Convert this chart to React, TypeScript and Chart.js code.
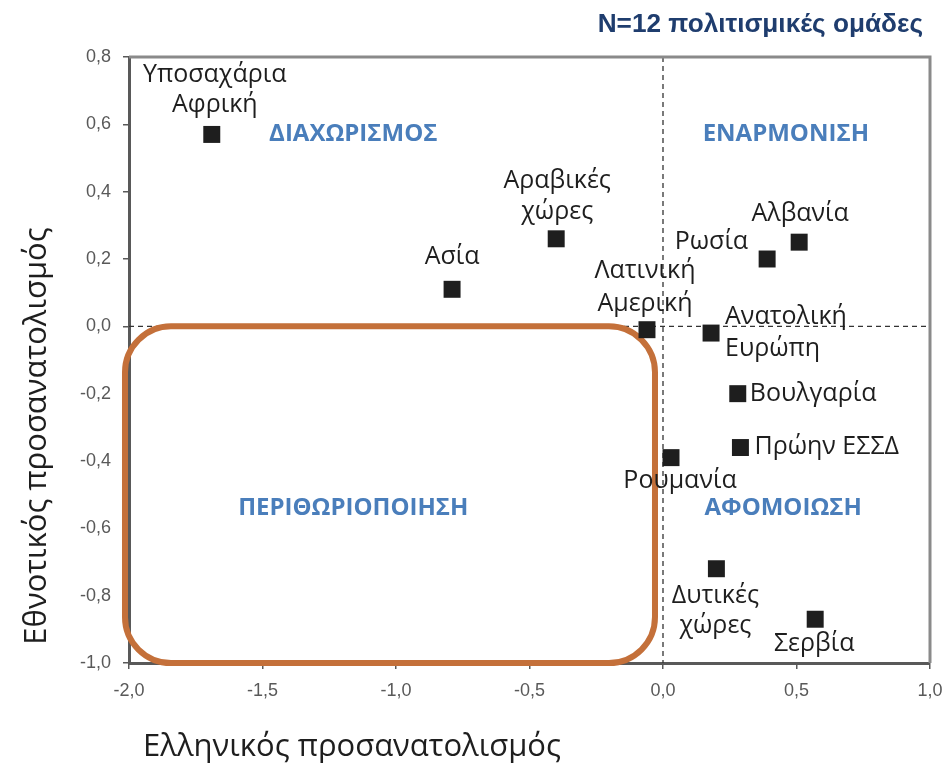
import React, { useEffect, useRef } from "react";
import { Chart, registerables } from "chart.js";

Chart.register(...registerables);

// ---- data ----
const groupNames: string[][] = [
  ["Υποσαχάρια", "Αφρική"],
  ["Ασία"],
  ["Αραβικές", "χώρες"],
  ["Λατινική", "Αμερική"],
  ["Ανατολική", "Ευρώπη"],
  ["Ρωσία"],
  ["Αλβανία"],
  ["Βουλγαρία"],
  ["Πρώην ΕΣΣΔ"],
  ["Ρουμανία"],
  ["Δυτικές", "χώρες"],
  ["Σερβία"],
];
const greekOrientation: number[] = [-1.69, -0.79, -0.40, -0.06, 0.18, 0.39, 0.51, 0.28, 0.29, 0.03, 0.20, 0.57];
const ethnicOrientation: number[] = [0.57, 0.11, 0.26, -0.01, -0.02, 0.20, 0.25, -0.20, -0.36, -0.39, -0.72, -0.87];

const quadrantNames: string[] = ["ΔΙΑΧΩΡΙΣΜΟΣ", "ΕΝΑΡΜΟΝΙΣΗ", "ΠΕΡΙΘΩΡΙΟΠΟΙΗΣΗ", "ΑΦΟΜΟΙΩΣΗ"];
const quadrantX: number[] = [-1.16, 0.46, -1.16, 0.45];
const quadrantY: number[] = [0.57, 0.57, -0.54, -0.54];

// marginalisation box (data coordinates)
const boxX: number[] = [-2.015, -0.03];
const boxY: number[] = [0.0, -1.0];

const xTitle = "Ελληνικός προσανατολισμός";
const yTitle = "Εθνοτικός προσανατολισμός";
const chartTitle = "N=12 πολιτισμικές ομάδες";

// ---- label layout (pixel offsets from the marker, styling only) ----
type Place = { align: CanvasTextAlign; dx: number; dy: number[] };
const labelPlacement: Place[] = [
  { align: "center", dx: 3, dy: [-60, -30] },
  { align: "center", dx: 0, dy: [-32] },
  { align: "center", dx: 1, dy: [-58, -27] },
  { align: "center", dx: -2, dy: [-59, -26] },
  { align: "left", dx: 14, dy: [-16, 16] },
  { align: "right", dx: -19, dy: [-17] },
  { align: "center", dx: 1, dy: [-28] },
  { align: "left", dx: 12, dy: [0] },
  { align: "left", dx: 14, dy: [-1] },
  { align: "center", dx: 9, dy: [23] },
  { align: "center", dx: -1, dy: [27, 57] },
  { align: "center", dx: -1, dy: [25] },
];

const FONT = "'Open Sans', 'Noto Sans', sans-serif";
const fmt = (v: number) => (Math.abs(v) < 1e-9 ? 0 : v).toFixed(1).replace(".", ",");

const overlayPlugin = {
  id: "overlay",
  beforeDatasetsDraw(chart: any) {
    const { ctx, chartArea: a, scales } = chart;
    const xs = scales.x, ys = scales.y;
    ctx.save();
    // dashed zero lines
    ctx.strokeStyle = "#333";
    ctx.lineWidth = 1.3;
    ctx.setLineDash([5, 4]);
    const x0 = xs.getPixelForValue(0), y0 = ys.getPixelForValue(0);
    ctx.beginPath();
    ctx.moveTo(x0, a.top);
    ctx.lineTo(x0, a.bottom);
    ctx.moveTo(a.left, y0);
    ctx.lineTo(a.right, y0);
    ctx.stroke();
    ctx.setLineDash([]);
    // top/right frame
    ctx.strokeStyle = "#8a8a8a";
    ctx.lineWidth = 3;
    ctx.beginPath();
    ctx.moveTo(a.left, a.top);
    ctx.lineTo(a.right, a.top);
    ctx.lineTo(a.right, a.bottom);
    ctx.stroke();
    // rounded box
    const bx1 = xs.getPixelForValue(boxX[0]), bx2 = xs.getPixelForValue(boxX[1]);
    const by1 = ys.getPixelForValue(boxY[0]), by2 = ys.getPixelForValue(boxY[1]);
    ctx.strokeStyle = "#C4703A";
    ctx.lineWidth = 6;
    ctx.beginPath();
    (ctx as any).roundRect(bx1, by1, bx2 - bx1, by2 - by1, 46);
    ctx.stroke();
    // quadrant labels
    ctx.fillStyle = "#4A7EBB";
    ctx.font = `700 24px ${FONT}`;
    ctx.textAlign = "center";
    ctx.textBaseline = "middle";
    quadrantNames.forEach((q, i) => {
      ctx.fillText(q, xs.getPixelForValue(quadrantX[i]), ys.getPixelForValue(quadrantY[i]));
    });
    ctx.restore();
  },
  afterDatasetsDraw(chart: any) {
    const { ctx } = chart;
    const meta = chart.getDatasetMeta(0);
    ctx.save();
    ctx.fillStyle = "#1e1e1e";
    ctx.font = `25px ${FONT}`;
    ctx.textBaseline = "middle";
    meta.data.forEach((pt: any, i: number) => {
      const p = labelPlacement[i];
      ctx.textAlign = p.align;
      groupNames[i].forEach((line, j) => {
        ctx.fillText(line, pt.x + p.dx, pt.y + p.dy[j]);
      });
    });
    // chart title (fitted to the reference width)
    ctx.fillStyle = "#1F3D6E";
    const titleFamily = "'Liberation Sans', Arial, sans-serif";
    ctx.font = `bold 24px ${titleFamily}`;
    const w = ctx.measureText(chartTitle).width;
    const size = Math.min(30, Math.max(18, (24 * 326) / w));
    ctx.font = `bold ${size.toFixed(1)}px ${titleFamily}`;
    ctx.textAlign = "right";
    ctx.fillText(chartTitle, 923, 25);
    // axis titles
    ctx.fillStyle = "#1e1e1e";
    ctx.font = `31px ${FONT}`;
    ctx.textAlign = "center";
    ctx.fillText(xTitle, 352, 747);
    ctx.translate(37, 436);
    ctx.rotate(-Math.PI / 2);
    ctx.fillText(yTitle, 0, 0);
    ctx.restore();
  },
};

export default function App() {
  const ref = useRef<HTMLCanvasElement>(null);
  useEffect(() => {
    if (!ref.current) return;
    const tickFont = { family: "'Liberation Sans', Arial, sans-serif", size: 18 };
    const chart = new Chart(ref.current, {
      type: "scatter",
      data: {
        datasets: [
          {
            data: greekOrientation.map((x, i) => ({ x, y: ethnicOrientation[i] })),
            pointStyle: "rect",
            pointRadius: 12,
            pointHoverRadius: 12,
            backgroundColor: "#1e1e1e",
            borderColor: "#1e1e1e",
            borderWidth: 0,
          },
        ],
      },
      options: {
        animation: false,
        responsive: false,
        maintainAspectRatio: false,
        events: [],
        layout: { padding: { left: 0, top: 57, right: 15, bottom: 0 } },
        plugins: { legend: { display: false }, tooltip: { enabled: false }, title: { display: false } },
        scales: {
          x: {
            type: "linear",
            min: -2,
            max: 1,
            afterFit: (s: any) => { s.height = 107; s.paddingLeft = 0; s.paddingRight = 0; },
            ticks: { stepSize: 0.5, callback: (v: any) => fmt(Number(v)), color: "#595959", font: tickFont, padding: 11, maxRotation: 0 },
            grid: { display: true, drawOnChartArea: false, drawTicks: true, tickLength: 6, color: "#595959", lineWidth: 1.5 },
            border: { display: true, color: "#595959", width: 3 },
          },
          y: {
            type: "linear",
            min: -1,
            max: 0.8,
            afterFit: (s: any) => { s.width = 129; s.paddingTop = 0; s.paddingBottom = 0; },
            ticks: { stepSize: 0.2, callback: (v: any) => fmt(Number(v)), color: "#595959", font: tickFont, padding: 12 },
            grid: { display: true, drawOnChartArea: false, drawTicks: true, tickLength: 6, color: "#595959", lineWidth: 1.5 },
            border: { display: true, color: "#595959", width: 3 },
          },
        },
      },
      plugins: [overlayPlugin],
    });
    return () => chart.destroy();
  }, []);
  return (
    <div style={{ position: "fixed", left: 0, top: 0, width: 945, height: 770, background: "#fff" }}>
      <canvas ref={ref} width={945} height={770} style={{ width: 945, height: 770, display: "block" }} />
    </div>
  );
}
